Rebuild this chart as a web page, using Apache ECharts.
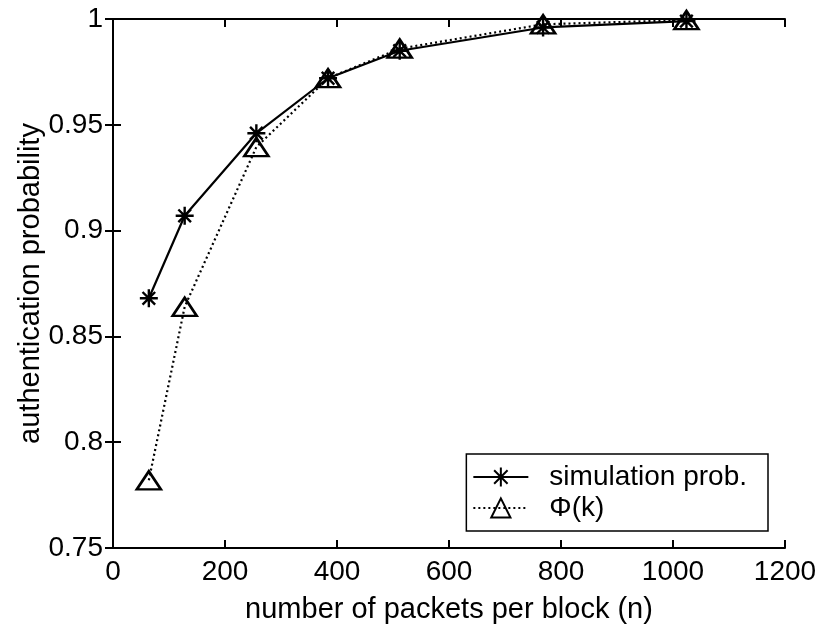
<!DOCTYPE html>
<html><head><meta charset="utf-8">
<script src="https://cdn.jsdelivr.net/npm/echarts@6/dist/echarts.min.js"></script>
<style>html,body{margin:0;padding:0;background:#fff}#c{width:822px;height:625px}</style>
</head><body><div id="c"></div>
<script>
const packets = [64, 128, 256, 384, 512, 768, 1024];
const simulation = [0.868, 0.907, 0.946, 0.972, 0.985, 0.996, 0.999];
const phi = [0.782, 0.864, 0.9395, 0.972, 0.986, 0.9975, 0.9995];
const xTicks = [0, 200, 400, 600, 800, 1000, 1200];
const yTicks = [0.75, 0.8, 0.85, 0.9, 0.95, 1];

const font = 'Liberation Sans, Arial, Helvetica, sans-serif';
const star = 'path://M0,-10L0,10M-10,0L10,0M-7,-7L7,7M-7,7L7,-7';
const chart = echarts.init(document.getElementById('c'));
function axisCommon() {
  return {
    axisLine: {show: true, lineStyle: {color: '#000', width: 2}},
    axisTick: {show: true, inside: true, length: 8, lineStyle: {color: '#000', width: 2}},
    splitLine: {show: false}
  };
}
chart.setOption({
  animation: false,
  grid: {left: 113, right: 37, top: 19, bottom: 77, containLabel: false, outerBoundsMode: 'none'},
  xAxis: [
    Object.assign({type: 'value', min: xTicks[0], max: xTicks[xTicks.length - 1], interval: 200, position: 'bottom',
      name: 'number of packets per block (n)', nameLocation: 'middle', nameGap: 47, nameMoveOverlap: false,
      nameTextStyle: {fontFamily: font, fontSize: 29, color: '#000'},
      axisLabel: {fontFamily: font, fontSize: 28, color: '#000', margin: 10,
        formatter: v => String(v)}}, axisCommon()),
    Object.assign({type: 'value', min: xTicks[0], max: xTicks[xTicks.length - 1], interval: 200, position: 'top',
      axisLabel: {show: false}}, axisCommon())
  ],
  yAxis: [
    Object.assign({type: 'value', min: yTicks[0], max: yTicks[yTicks.length - 1], interval: 0.05, position: 'left',
      name: 'authentication probability', nameLocation: 'middle', nameGap: 68, nameMoveOverlap: false,
      nameTextStyle: {fontFamily: font, fontSize: 29, color: '#000'},
      axisLabel: {fontFamily: font, fontSize: 28, color: '#000', margin: 10,
        formatter: v => String(Math.round(v * 100) / 100)}}, axisCommon()),
    Object.assign({type: 'value', min: yTicks[0], max: yTicks[yTicks.length - 1], interval: 0.05, position: 'right',
      axisLabel: {show: false}}, axisCommon())
  ],
  legend: {
    right: 54, bottom: 94, orient: 'vertical',
    backgroundColor: '#fff', borderColor: '#000', borderWidth: 1.5,
    padding: [9, 21, 9, 6], itemGap: 3, itemWidth: 55, itemHeight: 24,
    textStyle: {fontFamily: font, fontSize: 28, color: '#000', padding: [0, 0, 0, 16]},
    data: ['simulation prob.', 'Φ(k)']
  },
  series: [
    {name: 'simulation prob.', type: 'line', data: packets.map((x, i) => [x, simulation[i]]),
      lineStyle: {color: '#000', width: 2.2, type: 'solid'},
      symbol: star, symbolSize: 18, z: 3,
      itemStyle: {color: '#000', borderColor: '#000', borderWidth: 2.4}},
    {name: 'Φ(k)', type: 'line', data: packets.map((x, i) => [x, phi[i]]),
      lineStyle: {color: '#000', width: 2.2, type: [2, 3]},
      symbol: 'triangle', symbolSize: [24, 18], z: 2,
      itemStyle: {color: 'rgba(255,255,255,0)', borderColor: '#000', borderWidth: 2.6}}
  ]
});
</script></body></html>
